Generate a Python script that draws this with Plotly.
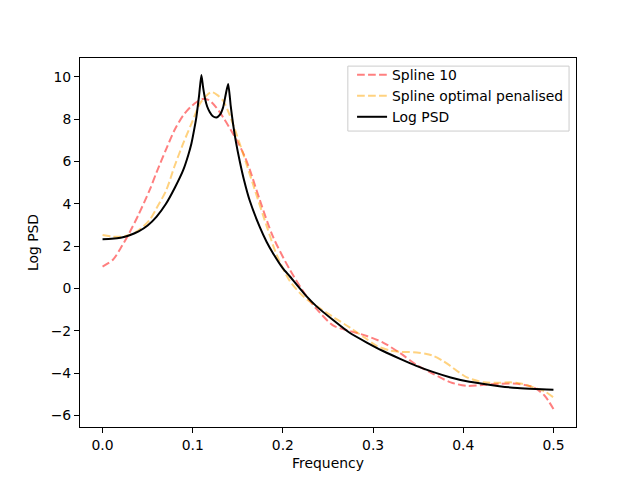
import plotly.graph_objects as go

# Log PSD (black solid)
freq_psd = [0, 0.01, 0.02, 0.03, 0.04, 0.05, 0.06, 0.07, 0.08, 0.0893, 0.095, 0.0985,
            0.102, 0.104, 0.107, 0.1096, 0.1115, 0.1135, 0.116, 0.119, 0.122, 0.1263,
            0.13, 0.1337, 0.1367, 0.1393, 0.1422, 0.1448, 0.1478, 0.1522, 0.157, 0.163,
            0.1744, 0.182, 0.189, 0.2, 0.2078, 0.2263, 0.237, 0.256, 0.274, 0.293, 0.311,
            0.33, 0.348, 0.367, 0.386, 0.404, 0.423, 0.44, 0.46, 0.48, 0.5]
log_psd = [2.33, 2.35, 2.40, 2.52, 2.70, 2.98, 3.40, 3.98, 4.75, 5.58, 6.3, 6.84,
           7.6, 8.09, 9.1, 10.09, 9.5, 9.0, 8.6, 8.33, 8.15, 8.08,
           8.2, 8.56, 9.19, 9.66, 8.6, 7.75, 6.95, 6.0, 5.1, 4.18,
           2.9, 2.2, 1.67, 0.95, 0.57, -0.37, -0.83, -1.5, -2.09, -2.55, -2.95,
           -3.32, -3.65, -3.95, -4.2, -4.38, -4.51, -4.61, -4.70, -4.75, -4.78]

# Spline 10 (red dashed)
freq_s10 = [0, 0.0115, 0.02, 0.03, 0.04, 0.0522, 0.06, 0.0707, 0.08, 0.0893, 0.097,
            0.104, 0.111, 0.118, 0.126, 0.135, 0.1448, 0.152, 0.158, 0.163, 0.1744,
            0.189, 0.2078, 0.2263, 0.237, 0.256, 0.274, 0.293, 0.311, 0.33, 0.348,
            0.367, 0.386, 0.404, 0.423, 0.44, 0.46, 0.478, 0.49, 0.5]
spline_10 = [1.04, 1.36, 1.9, 2.65, 3.5, 4.65, 5.5, 6.6, 7.5, 8.17, 8.55,
             8.8, 8.95, 8.9, 8.56, 8.0, 7.3, 6.75, 6.2, 5.65, 4.18,
             2.45, 0.88, -0.37, -0.95, -1.75, -2.0, -2.24, -2.55, -3.05, -3.6,
             -4.04, -4.43, -4.6, -4.55, -4.5, -4.5, -4.67, -5.05, -5.69]

# Spline optimal penalised (orange dashed)
freq_opt = [0, 0.0115, 0.02, 0.03, 0.04, 0.0522, 0.06, 0.0707, 0.08, 0.0893, 0.0985,
            0.1078, 0.1133, 0.1207, 0.127, 0.1337, 0.14, 0.1485, 0.156, 0.167, 0.182,
            0.193, 0.2078, 0.2226, 0.2374, 0.256, 0.2744, 0.29, 0.304, 0.318, 0.33,
            0.34, 0.3485, 0.358, 0.367, 0.376, 0.3856, 0.395, 0.404, 0.4226, 0.44,
            0.452, 0.465, 0.478, 0.49, 0.5]
spline_opt = [2.53, 2.45, 2.45, 2.53, 2.75, 3.24, 3.8, 4.65, 5.8, 6.84, 7.78,
              8.72, 9.03, 9.28, 9.15, 8.87, 8.3, 7.3, 6.35, 4.9, 2.95,
              1.6, 0.35, -0.37, -0.83, -1.35, -1.85, -2.3, -2.71, -2.92, -2.99,
              -3.0, -3.02, -3.08, -3.18, -3.38, -3.65, -3.95, -4.2, -4.43, -4.45,
              -4.43, -4.5, -4.67, -4.85, -5.14]

x_ticks = [0, 0.1, 0.2, 0.3, 0.4, 0.5]
x_labels = ["0.0", "0.1", "0.2", "0.3", "0.4", "0.5"]
y_ticks = [-6, -4, -2, 0, 2, 4, 6, 8, 10]
y_labels = ["\u22126", "\u22124", "\u22122", "0", "2", "4", "6", "8", "10"]

font = "DejaVu Sans"
dash = "7.7px,3.3px"

fig = go.Figure()
fig.add_trace(go.Scatter(x=freq_s10, y=spline_10, mode="lines", name="Spline 10",
                         line=dict(color="rgba(255,0,0,0.5)", width=2, dash=dash,
                                   shape="spline", smoothing=0.8)))
fig.add_trace(go.Scatter(x=freq_opt, y=spline_opt, mode="lines",
                         name="Spline optimal penalised",
                         line=dict(color="rgba(255,165,0,0.5)", width=2, dash=dash,
                                   shape="spline", smoothing=0.8)))
fig.add_trace(go.Scatter(x=freq_psd, y=log_psd, mode="lines", name="Log PSD",
                         line=dict(color="black", width=2,
                                   shape="spline", smoothing=0.6)))

axis_style = dict(showline=True, linecolor="black", linewidth=1, mirror=True,
                  ticks="outside", ticklen=5, tickwidth=1, tickcolor="black",
                  showgrid=False, zeroline=False,
                  tickfont=dict(family=font, size=13.9, color="black"))

# legend frame drawn as a shape (matplotlib-like box)
fig.add_shape(type="rect", xref="paper", yref="paper",
              x0=0.540, x1=0.986, y0=0.802, y1=0.978,
              line=dict(color="#cccccc", width=1),
              fillcolor="rgba(255,255,255,0.8)", layer="above")

# page body has an 8px margin, so the figure is offset by that amount
fig.update_layout(
    width=640, height=480,
    paper_bgcolor="white", plot_bgcolor="white",
    margin=dict(l=72, r=72, t=50, b=61),
    font=dict(family=font, size=13.9, color="black"),
    xaxis=dict(range=[-0.025, 0.525], tickvals=x_ticks, ticktext=x_labels,
               title=dict(text="Frequency", standoff=6,
                          font=dict(family=font, size=13.9)),
               **axis_style),
    yaxis=dict(range=[-6.54, 10.89], tickvals=y_ticks, ticktext=y_labels,
               title=dict(text="Log PSD", standoff=8,
                          font=dict(family=font, size=13.9)),
               **axis_style),
    legend=dict(x=0.986, y=0.997, xanchor="right", yanchor="top",
                bgcolor="rgba(0,0,0,0)", borderwidth=0,
                font=dict(family=font, size=13.9),
                tracegroupgap=0),
    showlegend=True,
)

fig.write_html("out.html")
